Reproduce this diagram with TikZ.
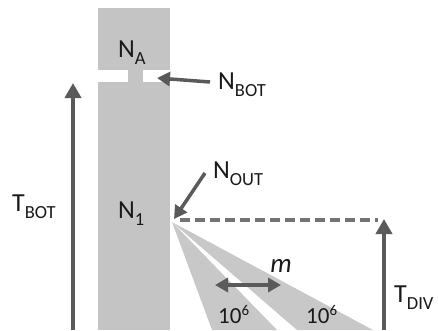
\documentclass[tikz,border=0pt]{standalone}
\usepackage{fontspec}
\setmainfont{Carlito}
\usetikzlibrary{arrows.meta}
\definecolor{boxgray}{RGB}{196,196,196}
\definecolor{wedgegray}{RGB}{200,200,200}
\definecolor{arrgray}{RGB}{90,90,90}
\definecolor{dashgray}{RGB}{115,115,115}
\definecolor{txt}{RGB}{25,25,25}
\newcommand\mylab[2]{#1\raisebox{-7pt}{\fontsize{18.5}{19}\selectfont #2}}
\newcommand\mypow[2]{#1\raisebox{8pt}{\fontsize{15}{15}\selectfont #2}}
\begin{document}
\begin{tikzpicture}[x=1pt,y=-1pt,
  lab/.style={anchor=base west, inner sep=0pt, font=\fontsize{26}{28}\selectfont, text=txt},
  numlab/.style={anchor=base west, inner sep=0pt, font=\fontsize{23}{24}\selectfont, text=txt},
  arr/.style={draw=arrgray, line width=4pt, -{Triangle[width=16pt,length=15pt]}},
  sarr/.style={draw=arrgray, line width=3.5pt, -{Triangle[width=14pt,length=13pt]}},
  darr/.style={draw=arrgray, line width=3.5pt, {Triangle[width=14pt,length=13pt]}-{Triangle[width=14pt,length=13pt]}},
  dash line/.style={draw=dashgray, line width=3.5pt, dash pattern=on 10pt off 5pt},
  block/.style={fill=boxgray, draw=none},
  wedge/.style={fill=wedgegray, draw=none}]
\useasboundingbox (0,0) rectangle (438,330);

% wedges
\coordinate (O) at (172,222);
\fill[wedge] (O) -- (212,330) -- (277,330) -- cycle;
\fill[wedge] (O) -- (297,330) -- (373,330) -- cycle;

% column
\fill[block] (98,8) rectangle (170,70);
\fill[block] (128,69) rectangle (143,83);
\fill[block] (98,82) rectangle (170,330);

% labels
\node[lab] (na) at (118,57) {\mylab{N}{A}};
\node[lab] (nbot) at (218,89) {\mylab{N}{BOT}};
\node[lab] (n1) at (118,218) {\mylab{N}{1}};
\node[lab] (nout) at (213,178) {\mylab{N}{OUT}};
\node[lab] (tbot) at (12,211) {\mylab{T}{BOT}};
\node[lab] (tdiv) at (394,302) {\mylab{T}{DIV}};
\node[numlab] (w1) at (218,323) {\mypow{10}{6}};
\node[numlab] (w2) at (306,323) {\mypow{10}{6}};
\node[anchor=base, inner sep=0pt, font=\fontsize{27}{28}\selectfont\itshape, text=txt] (m) at (281,272) {m};

% coordinates
\coordinate (tbotS) at (73,330);
\coordinate (tbotE) at (73,83);
\coordinate (nbotS) at (210,82);
\coordinate (nbotE) at (157,78);
\coordinate (noutS) at (205,173);
\coordinate (noutE) at (174,219);
\coordinate (dashS) at (180,220);
\coordinate (dashE) at (378,220);
\coordinate (tdivS) at (384,330);
\coordinate (tdivE) at (384,219);
\coordinate (mL) at (215,285);
\coordinate (mR) at (281,285);

% connectors
\draw[dash line] (dashS) -- (dashE);
\draw[arr] (tbotS) -- (tbotE);
\draw[arr] (tdivS) -- (tdivE);
\draw[sarr] (nbotS) -- (nbotE);
\draw[sarr] (noutS) -- (noutE);
\draw[darr] (mL) -- (mR);
\end{tikzpicture}
\end{document}
